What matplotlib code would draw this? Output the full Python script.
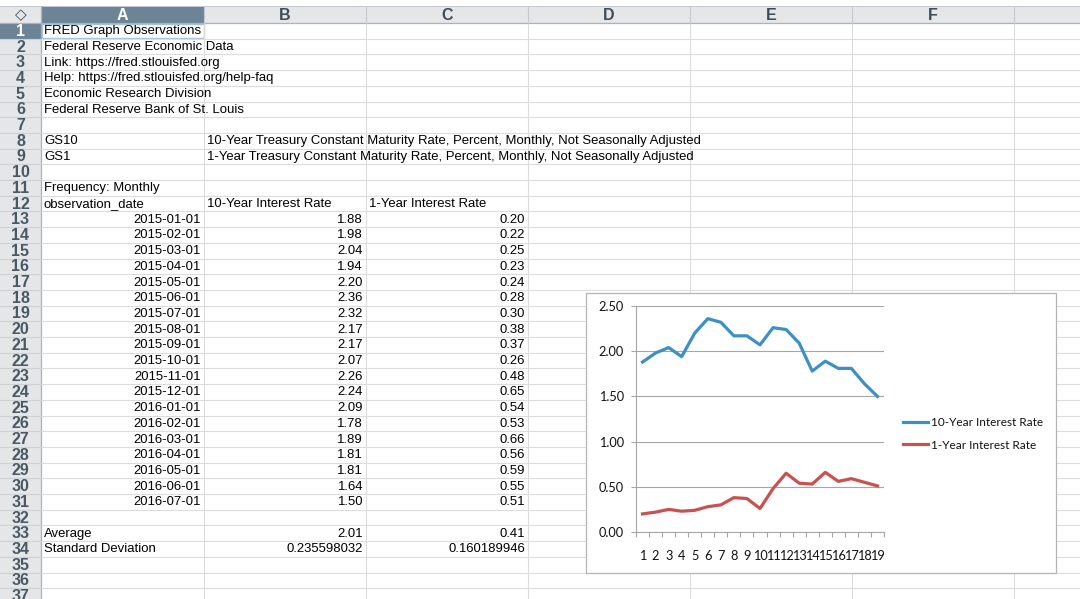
import matplotlib
matplotlib.use("Agg")
import matplotlib.pyplot as plt
from matplotlib.patches import Rectangle

# ---- data ----
dates = ["2015-01-01", "2015-02-01", "2015-03-01", "2015-04-01", "2015-05-01",
         "2015-06-01", "2015-07-01", "2015-08-01", "2015-09-01", "2015-10-01",
         "2015-11-01", "2015-12-01", "2016-01-01", "2016-02-01", "2016-03-01",
         "2016-04-01", "2016-05-01", "2016-06-01", "2016-07-01"]
rate10 = [1.88, 1.98, 2.04, 1.94, 2.20, 2.36, 2.32, 2.17, 2.17, 2.07,
          2.26, 2.24, 2.09, 1.78, 1.89, 1.81, 1.81, 1.64, 1.50]
rate1 = [0.20, 0.22, 0.25, 0.23, 0.24, 0.28, 0.30, 0.38, 0.37, 0.26,
         0.48, 0.65, 0.54, 0.53, 0.66, 0.56, 0.59, 0.55, 0.51]
obs = list(range(1, len(dates) + 1))

info_lines = ["FRED Graph Observations", "Federal Reserve Economic Data",
              "Link: https://fred.stlouisfed.org", "Help: https://fred.stlouisfed.org/help-faq",
              "Economic Research Division", "Federal Reserve Bank of St. Louis"]
series_ids = ["GS10", "GS1"]
series_desc = ["10-Year Treasury Constant Maturity Rate, Percent, Monthly, Not Seasonally Adjusted",
               "1-Year Treasury Constant Maturity Rate, Percent, Monthly, Not Seasonally Adjusted"]
col_titles = ["observation_date", "10-Year Interest Rate", "1-Year Interest Rate"]
avg_vals = ["2.01", "0.41"]
sd_vals = ["0.235598032", "0.160189946"]
col_letters = ["A", "B", "C", "D", "E", "F"]

# ---- sheet geometry (pixels) ----
W, H = 1080, 599
HT, HB, RH = 6, 23, 15.7
cols = [41, 204, 366, 528, 690, 852, 1014, 1080]
SEL = "#6c8496"
HDR = "#e4e6e8"
GRID = "#dcdcdc"
SHEET_FONT = "Liberation Sans"
FS = 9.45


def rtop(r):
    return HB + (r - 1) * RH


def rmid(r):
    return rtop(r) + RH / 2 + 0.5


fig = plt.figure(figsize=(10.8, 5.99), dpi=100)
ax = fig.add_axes([0, 0, 1, 1])
ax.set_xlim(0, W); ax.set_ylim(H, 0); ax.axis("off")

# headers
ax.add_patch(Rectangle((0, HT), W, HB - HT, fc=HDR, ec="none"))
ax.add_patch(Rectangle((cols[0], HT), cols[1] - cols[0], HB - HT, fc=SEL, ec="none"))
ax.add_patch(Rectangle((0, HB), cols[0], H - HB, fc=HDR, ec="none"))
ax.add_patch(Rectangle((0, rtop(1)), cols[0], RH, fc=SEL, ec="none"))
ax.plot([0, W], [HT, HT], color="#c4cad0", lw=0.7)
ax.plot([0, W], [HB, HB], color="#a9b3bc", lw=0.9)
ax.plot([cols[0], cols[0]], [HT, H], color="#a9b3bc", lw=0.9)

# grid
for r in range(2, 39):
    y = rtop(r)
    ax.plot([cols[0], W], [y, y], color=GRID, lw=0.8)
    ax.plot([0, cols[0]], [y, y], color="#cdd2d7", lw=0.8)
for x in cols[1:-1]:
    ax.plot([x, x], [HB, H], color=GRID, lw=0.8)
    ax.plot([x, x], [HT, HB], color="#c4cad0", lw=0.8)

# header labels
ax.text(cols[0] / 2, (HT + HB) / 2, "\u25c7", ha="center", va="center",
        fontsize=11, fontweight="bold", color="#3e4c5a", family="DejaVu Sans")
for i, letter in enumerate(col_letters):
    xc = (cols[i] + cols[i + 1]) / 2
    ax.text(xc, (HT + HB) / 2 + 0.5, letter, ha="center", va="center", fontsize=11.5,
            fontweight="bold", family="Liberation Sans", color="white" if i == 0 else "#3e4c5a")
for r in range(1, 38):
    ax.text(cols[0] / 2, rmid(r), str(r), ha="center", va="center", fontsize=11.5,
            fontweight="bold", family="Liberation Sans", color="white" if r == 1 else "#4a5866")

# selection box on A1
ax.add_patch(Rectangle((cols[0] + 0.5, rtop(1) + 0.5), cols[1] - cols[0] - 1, RH - 1,
                       fc="none", ec="#a9c4dc", lw=1.0))


def left(r, c, s):
    ax.text(cols[c] + 3, rmid(r), s, ha="left", va="center", fontsize=FS,
            family=SHEET_FONT, color="black")


def right(r, c, s):
    ax.text(cols[c + 1] - 3, rmid(r), s, ha="right", va="center", fontsize=FS,
            family=SHEET_FONT, color="black")


for i, s in enumerate(info_lines):
    left(i + 1, 0, s)
for i, (sid, desc) in enumerate(zip(series_ids, series_desc)):
    left(8 + i, 0, sid)
    left(8 + i, 1, desc)
left(11, 0, "Frequency: Monthly")
for c, s in enumerate(col_titles):
    left(12, c, s)
for i, d in enumerate(dates):
    r = 13 + i
    right(r, 0, d)
    right(r, 1, f"{rate10[i]:.2f}")
    right(r, 2, f"{rate1[i]:.2f}")
left(33, 0, "Average")
right(33, 1, avg_vals[0]); right(33, 2, avg_vals[1])
left(34, 0, "Standard Deviation")
right(34, 1, sd_vals[0]); right(34, 2, sd_vals[1])

# ---- embedded chart ----
cx0, cy0, cx1, cy1 = 586, 293, 1056, 573
ax.add_patch(Rectangle((cx0 + 1.2, cy0 + 1.2), cx1 - cx0, cy1 - cy0, fc="#c8c8c8", ec="none", zorder=5))
ax.add_patch(Rectangle((cx0, cy0), cx1 - cx0, cy1 - cy0, fc="white", ec="#b4b4b4", lw=0.9, zorder=6))

px0, px1, py_top, py_bot = 636, 884, 306, 532
ax2 = fig.add_axes([px0 / W, (H - py_bot) / H, (px1 - px0) / W, (py_bot - py_top) / H])
ax2.set_facecolor("none")
ax2.plot(obs, rate10, color="#3d8fc6", lw=2.3, label="10-Year Interest Rate", zorder=3)
ax2.plot(obs, rate1, color="#c9514f", lw=2.3, label="1-Year Interest Rate", zorder=3)
ax2.set_xlim(0.5, len(obs) + 0.5)
ax2.set_ylim(0, 2.5)
yt = [0, 0.5, 1.0, 1.5, 2.0, 2.5]
ax2.set_yticks(yt)
ax2.set_yticklabels([f"{v:.2f}" for v in yt])
ax2.grid(axis="y", color="#a6a6a6", lw=0.8)
ax2.set_axisbelow(True)
ax2.set_xticks(obs)
ax2.set_xticklabels([str(o) for o in obs])
ax2.set_xticks([o + 0.5 for o in [0] + obs], minor=True)
for s in ["top", "right"]:
    ax2.spines[s].set_visible(False)
for s in ["left", "bottom"]:
    ax2.spines[s].set_color("#a6a6a6")
    ax2.spines[s].set_linewidth(0.8)
ax2.tick_params(axis="x", which="major", length=0, pad=13)
ax2.tick_params(axis="x", which="minor", length=3.5, width=0.8, color="#a6a6a6", direction="out")
ax2.tick_params(axis="y", length=3.6, width=0.8, color="#a6a6a6", pad=5)
for lab in ax2.get_xticklabels() + ax2.get_yticklabels():
    lab.set_family("Lato"); lab.set_fontsize(9.2); lab.set_color("#111111")
leg = ax2.legend(loc="center left", bbox_to_anchor=((903 - px0) / (px1 - px0), (py_bot - 434) / (py_bot - py_top)),
                 frameon=False, borderpad=0, borderaxespad=0, handlelength=2.1,
                 handletextpad=0.25, labelspacing=0.95, prop={"family": "Lato", "size": 8.5})
for t in leg.get_texts():
    t.set_color("#111111")

fig.savefig("out.png", dpi=100)
